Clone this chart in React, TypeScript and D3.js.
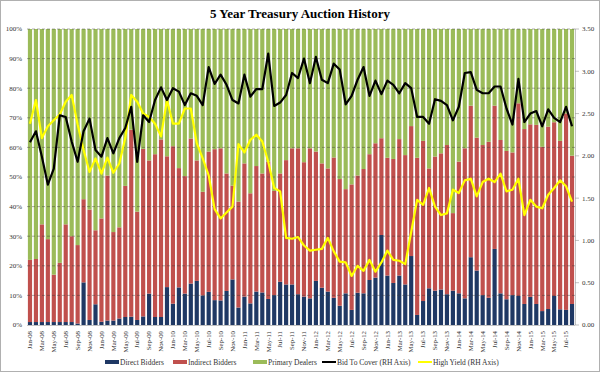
import React, { useRef, useEffect } from "react";
import * as d3 from "d3";

// monthly auctions, Jan-08 .. Aug-15
const months: Date[] = d3.timeMonths(new Date(2008, 0, 1), new Date(2015, 8, 1));

// shares of each auction, %
const direct = [
  1, 1, 1, 1, 1, 1, 1, 1, 0.5, 14.4, 1.7, 7,
  1.1, 1.5, 1.5, 2.2, 2.7, 2.8, 1.7, 2.9, 10.6, 2.7, 2.7, 12.8,
  7.2, 12.7, 10.6, 14, 14.9, 10, 11.2, 8.4, 8.3, 11.5, 15.4, 5.9,
  9.6, 7.3, 11.3, 11, 8.8, 10.1, 14.6, 13.7, 13.7, 10.4, 9.6, 9,
  14.9, 12.6, 11.3, 9.2, 6.5, 10.7, 5.1, 10.9, 10.7, 15.2, 16, 30.4,
  16.7, 14.2, 16.7, 13.7, 23.3, 3.4, 8.1, 12.4, 11.6, 12, 10.4, 11.6,
  10.7, 9, 22.9, 18.4, 10.1, 9.2, 25.7, 10.7, 8.7, 10.1, 9.8, 7.1,
  9.5, 7.1, 4.7, 5.4, 9.8, 5.3, 5.1, 7.1,
];
const indirect = [
  21, 21.3, 33, 28, 16, 20, 33, 29, 26.5, 28.1, 37.3, 25,
  34.9, 49, 29.9, 30.8, 44.3, 63.2, 36.6, 56.6, 45, 55, 60, 44.2,
  53.2, 40.3, 39.7, 49, 40.7, 35, 47.4, 51, 51.4, 39.7, 31.7, 35.8,
  45, 37.2, 42.4, 40.2, 46.4, 35.2, 36.6, 42, 46, 49.3, 45.4, 50.7,
  43.7, 42, 41.6, 47.4, 42.8, 35.2, 42.4, 39.6, 42, 42.5, 45.4, 32.7,
  39.8, 41.9, 46.1, 43.7, 43.9, 53.1, 54.1, 40.5, 45.3, 46, 50.4, 26.2,
  44.5, 50.7, 51.2, 44.9, 50.7, 52.7, 48.4, 51.8, 50.1, 48.2, 65.1, 59.1,
  58.3, 60.5, 55.5, 61.6, 58.7, 56.9, 66.4, 50.1,
];
const dealers = [
  78, 77.7, 66, 71, 83, 79, 66, 70, 73, 57.5, 61, 68,
  64, 49.5, 68.6, 67, 53, 34, 61.7, 40.5, 44.4, 42.3, 37.3, 43,
  39.6, 47, 49.7, 37, 44.4, 55, 41.4, 40.6, 40.3, 48.8, 52.9, 58.3,
  45.4, 55.5, 46.3, 48.8, 44.8, 54.7, 48.8, 44.3, 40.3, 40.3, 45, 40.3,
  41.4, 45.4, 47.1, 43.4, 50.7, 54.1, 52.5, 49.5, 47.3, 42.3, 38.6, 36.9,
  43.5, 43.9, 37.2, 42.6, 32.8, 43.5, 37.8, 47.1, 43.1, 42, 39.2, 62.2,
  44.8, 40.3, 25.9, 36.7, 39.2, 38.1, 25.9, 37.5, 41.2, 41.7, 25.1, 33.8,
  32.2, 32.4, 39.8, 33, 31.5, 37.8, 28.5, 42.8,
];

// right axis series
const bidToCover = [
  2.16, 2.29, 1.99, 1.66, 1.85, 2.48, 2.46, 2.17, 1.93, 2.29, 2.44, 2.07,
  1.99, 2.21, 2.03, 2.21, 2.33, 2.58, 1.93, 2.48, 2.4, 2.66, 2.81, 2.66,
  2.8, 2.76, 2.6, 2.74, 2.71, 2.6, 3.05, 2.85, 2.96, 2.84, 2.66, 2.62,
  2.96, 2.7, 2.79, 2.79, 3.21, 2.59, 2.63, 2.72, 2.98, 2.92, 3.15, 2.86,
  3.17, 2.9, 2.86, 3.09, 3.02, 2.61, 2.71, 2.9, 3.05, 2.71, 2.89, 2.73,
  2.89, 2.84, 2.74, 2.86, 2.8, 2.46, 2.46, 2.38, 2.67, 2.65, 2.6, 2.42,
  2.58, 2.98, 2.99, 2.78, 2.74, 2.74, 2.82, 2.82, 2.56, 2.37, 2.91, 2.4,
  2.5, 2.53, 2.35, 2.55, 2.45, 2.4, 2.58, 2.35,
];
const highYield = [
  2.38, 2.66, 2.21, 2.35, 2.42, 2.49, 2.64, 2.72, 2.37, 2.07, 1.81, 1.97,
  1.79, 1.98, 1.8, 1.91, 2.21, 2.72, 2.64, 2.5, 2.46, 2.38, 2.23, 2.66,
  2.38, 2.38, 2.56, 2.56, 2.15, 1.97, 1.77, 1.37, 1.26, 1.33, 1.4, 2.14,
  2.04, 2.19, 2.25, 2.17, 1.93, 1.62, 1.58, 1.03, 1.02, 1.04, 0.94, 0.88,
  0.89, 0.9, 1.03, 0.87, 0.75, 0.74, 0.58, 0.7, 0.64, 0.77, 0.63, 0.74,
  0.88, 0.77, 0.76, 0.72, 1.1, 1.48, 1.42, 1.62, 1.4, 1.3, 1.32, 1.6,
  1.56, 1.71, 1.73, 1.52, 1.69, 1.73, 1.69, 1.79, 1.58, 1.6, 1.73, 1.3,
  1.48, 1.4, 1.38, 1.54, 1.62, 1.71, 1.64, 1.46,
];

const leftTicks = d3.range(0, 1.0001, 0.1);
const rightTicks = d3.range(0, 3.5001, 0.5);

const keys = ["direct", "indirect", "dealers"];
const barColors: Record<string, string> = {
  direct: "#1f3864",
  indirect: "#c0504d",
  dealers: "#9bbb59",
};

const W = 600;
const H = 373;
const FONT = "'Liberation Serif', 'Times New Roman', serif";

const App: React.FC = () => {
  const svgRef = useRef<SVGSVGElement | null>(null);

  useEffect(() => {
    const svg = d3.select(svgRef.current);
    svg.selectAll("*").remove();

    const left = 27, right = 575, top = 29, bottom = 325;

    const rows = months.map((m, i) => ({
      month: m,
      direct: direct[i],
      indirect: indirect[i],
      dealers: dealers[i],
    }));

    const x = d3
      .scaleBand<Date>()
      .domain(months)
      .range([left, right])
      .paddingInner(0.3)
      .paddingOuter(0.15);
    const yL = d3.scaleLinear().domain([0, 1]).range([bottom, top]);
    const yR = d3.scaleLinear().domain([0, 3.5]).range([bottom, top]);

    const stack = d3.stack<any>().keys(keys).offset(d3.stackOffsetExpand);
    const series = stack(rows);

    // outer frame
    svg
      .append("rect")
      .attr("x", 0.5)
      .attr("y", 0.5)
      .attr("width", W - 1)
      .attr("height", H - 2)
      .attr("fill", "#fff")
      .attr("stroke", "#b0b0b0");

    svg
      .append("text")
      .attr("x", 300)
      .attr("y", 18)
      .attr("text-anchor", "middle")
      .style("font-family", FONT)
      .style("font-weight", "bold")
      .style("font-size", "13px")
      .text("5 Year Treasury Auction History");

    // bars
    svg
      .append("g")
      .selectAll("g")
      .data(series)
      .join("g")
      .attr("fill", (d) => barColors[d.key])
      .selectAll("rect")
      .data((d) => d)
      .join("rect")
      .attr("x", (d: any) => x(d.data.month)!)
      .attr("width", x.bandwidth())
      .attr("y", (d) => yL(d[1]))
      .attr("height", (d) => yL(d[0]) - yL(d[1]));

    // dashed grid
    svg
      .append("g")
      .selectAll("line")
      .data(leftTicks.slice(1))
      .join("line")
      .attr("x1", left)
      .attr("x2", right)
      .attr("y1", (d) => yL(d))
      .attr("y2", (d) => yL(d))
      .attr("stroke", "#3a3a3a")
      .attr("stroke-opacity", 0.6)
      .attr("stroke-width", 0.7)
      .attr("stroke-dasharray", "3,2");

    // lines on right axis
    const cx = (i: number) => x(months[i])! + x.bandwidth() / 2;
    const lineGen = d3
      .line<number>()
      .x((_, i) => cx(i))
      .y((d) => yR(d));

    svg
      .append("path")
      .datum(highYield)
      .attr("d", lineGen)
      .attr("fill", "none")
      .attr("stroke", "#ffff00")
      .attr("stroke-width", 2.2)
      .attr("stroke-linejoin", "round");

    svg
      .append("path")
      .datum(bidToCover)
      .attr("d", lineGen)
      .attr("fill", "none")
      .attr("stroke", "#000")
      .attr("stroke-width", 2.2)
      .attr("stroke-linejoin", "round");

    // left axis labels
    svg
      .append("g")
      .selectAll("text")
      .data(leftTicks)
      .join("text")
      .attr("x", 22)
      .attr("y", (d) => yL(d) + 2.4)
      .attr("text-anchor", "end")
      .style("font-family", FONT)
      .style("font-size", "7px")
      .attr("fill", "#333")
      .text((d) => d3.format(".0%")(d));

    // right axis
    const ra = svg.append("g");
    ra.append("line")
      .attr("x1", right + 0.5)
      .attr("x2", right + 0.5)
      .attr("y1", top)
      .attr("y2", bottom)
      .attr("stroke", "#999")
      .attr("stroke-width", 0.6);
    ra.selectAll("line.tk")
      .data(rightTicks)
      .join("line")
      .attr("class", "tk")
      .attr("x1", right)
      .attr("x2", right + 4)
      .attr("y1", (d) => yR(d))
      .attr("y2", (d) => yR(d))
      .attr("stroke", "#999")
      .attr("stroke-width", 0.6);
    ra.selectAll("text")
      .data(rightTicks)
      .join("text")
      .attr("x", 582)
      .attr("y", (d) => yR(d) + 2.4)
      .style("font-family", FONT)
      .style("font-size", "7px")
      .attr("fill", "#333")
      .text((d) => d3.format(".2f")(d));

    // bottom axis line + month labels every 2nd month
    svg
      .append("line")
      .attr("x1", left)
      .attr("x2", right)
      .attr("y1", bottom + 0.5)
      .attr("y2", bottom + 0.5)
      .attr("stroke", "#999")
      .attr("stroke-width", 0.6);

    const fmt = d3.timeFormat("%b-%y");
    svg
      .append("g")
      .selectAll("text")
      .data(months.filter((_, i) => i % 2 === 0))
      .join("text")
      .attr(
        "transform",
        (d) => `translate(${x(d)! + x.bandwidth() / 2 + 2.3},331) rotate(-90)`
      )
      .attr("text-anchor", "end")
      .style("font-family", FONT)
      .style("font-size", "6.8px")
      .attr("fill", "#333")
      .text((d) => fmt(d));

    // legend
    const legendItems = [
      { label: "Direct Bidders", color: barColors.direct, x: 105, w: 4 },
      { label: "Indirect Bidders", color: barColors.indirect, x: 173, w: 4 },
      { label: "Primary Dealers", color: barColors.dealers, x: 253, w: 4 },
      { label: "Bid To Cover (RH Axis)", color: "#000", x: 322, w: 2 },
      { label: "High Yield (RH Axis)", color: "#ffff00", x: 418, w: 2 },
    ];
    const lg = svg
      .append("g")
      .selectAll("g")
      .data(legendItems)
      .join("g")
      .attr("transform", (d) => `translate(${d.x},362)`);
    lg.append("line")
      .attr("x1", 0)
      .attr("x2", 14)
      .attr("stroke", (d) => d.color)
      .attr("stroke-width", (d) => d.w);
    lg.append("text")
      .attr("x", 15)
      .attr("y", 2.6)
      .style("font-family", FONT)
      .style("font-size", "7.5px")
      .attr("fill", "#333")
      .text((d) => d.label);
  }, []);

  return (
    <svg
      ref={svgRef}
      width={W}
      height={H}
      style={{ position: "absolute", left: 0, top: 0 }}
    />
  );
};

export default App;
